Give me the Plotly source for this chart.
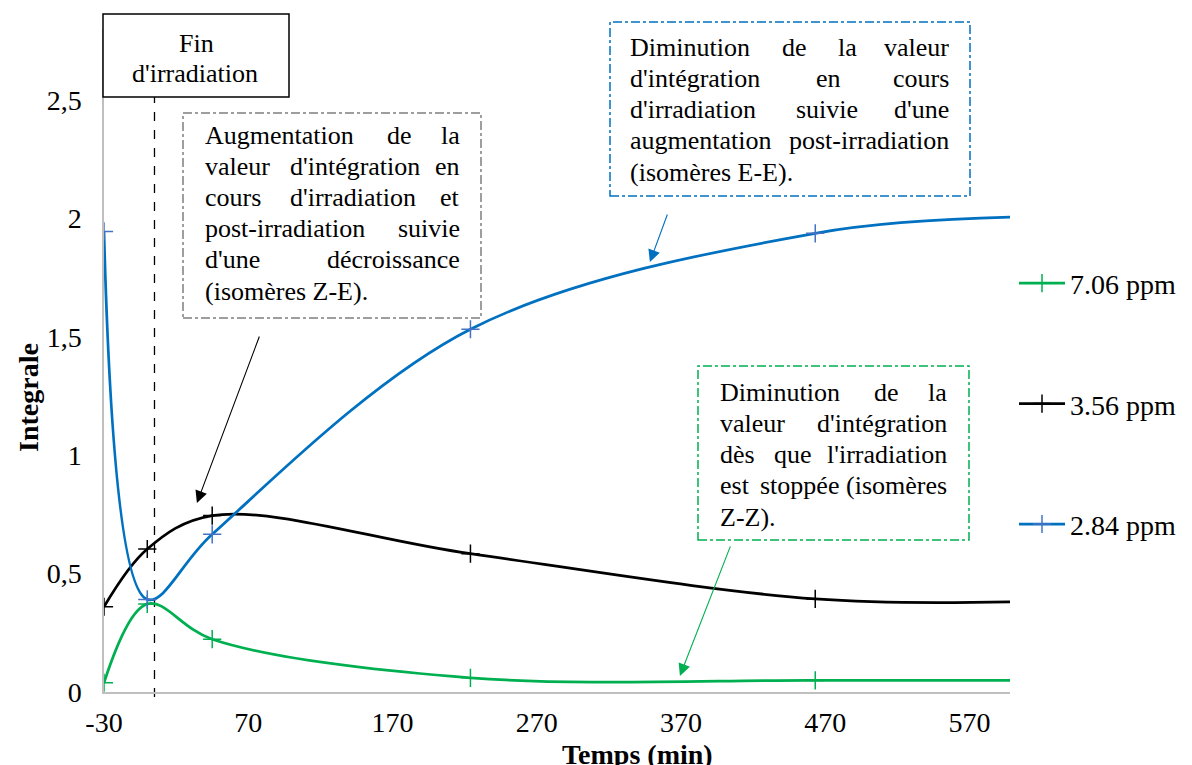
import plotly.graph_objects as go

# ---------------- data ----------------
time_min = [-30, 0, 45, 224, 463, 598]
ppm_706 = [0.039, 0.372, 0.223, 0.060, 0.049, 0.049]
ppm_356 = [0.360, 0.604, 0.745, 0.584, 0.393, 0.381]
ppm_284 = [1.945, 0.391, 0.666, 1.532, 1.937, 2.005]
series_names = ["7.06 ppm", "3.56 ppm", "2.84 ppm"]
x_ticks = [-30, 70, 170, 270, 370, 470, 570]
x_ticklabels = ["-30", "70", "170", "270", "370", "470", "570"]
y_ticks = [0, 0.5, 1, 1.5, 2, 2.5]
y_ticklabels = ["0", "0,5", "1", "1,5", "2", "2,5"]
end_of_irradiation = 5

# ---------------- layout geometry ----------------
W, H = 1192, 765
ML, MR, MT, MB = 104, 182, 29, 73
PW, PH = W - ML - MR, H - MT - MB
FONT = "Liberation Serif"


def px(xp):
    return (xp - ML) / PW


def py(yp):
    return (H - MB - yp) / PH


colors = ["#00B050", "#000000", "#0070C0"]
marker_colors = ["#00B050", "#000000", "#4472C4"]

fig = go.Figure()
for name, ys, c, mc in zip(series_names, [ppm_706, ppm_356, ppm_284], colors, marker_colors):
    mlc = [mc] * (len(time_min) - 1) + ["rgba(0,0,0,0)"]
    fig.add_trace(go.Scatter(
        x=time_min, y=ys, name=name, legendgroup=name,
        mode="lines+markers",
        line=dict(color=c, width=2.75, shape="spline", smoothing=1.0),
        marker=dict(symbol="cross-thin", size=13, color=mc,
                    line=dict(color=mlc, width=1.5)),
    ))

fig.update_layout(
    width=W, height=H,
    margin=dict(l=ML, r=MR, t=MT, b=MB, autoexpand=False),
    paper_bgcolor="white", plot_bgcolor="white",
    font=dict(family=FONT, size=28, color="black"),
    showlegend=True,
    legend=dict(x=px(1014), xanchor="left", y=py(404), yanchor="middle",
                tracegroupgap=81, itemwidth=46, font=dict(size=28, family=FONT),
                bgcolor="rgba(0,0,0,0)", borderwidth=0),
    xaxis=dict(range=[-30, 598], tickvals=x_ticks, ticktext=x_ticklabels, showgrid=False,
               zeroline=False, showline=True, linecolor="#BFBFBF", linewidth=1.5, ticks="",
               ticklabelstandoff=5, tickfont=dict(size=28, family=FONT)),
    yaxis=dict(range=[0, 2.8], tickvals=y_ticks, ticktext=y_ticklabels, showgrid=False,
               zeroline=False, showline=True, linecolor="#BFBFBF", linewidth=1.5,
               ticks="", ticklabelstandoff=15, tickfont=dict(size=28, family=FONT)),
)

# axis titles
fig.add_annotation(text="<b>Temps (min)</b>", xref="paper", yref="paper",
                   x=px(637), y=py(754), xanchor="center", yanchor="middle",
                   showarrow=False, font=dict(size=28, family=FONT))
fig.add_annotation(text="<b>Integrale</b>", xref="paper", yref="paper",
                   x=px(28), y=py(398), xanchor="center", yanchor="middle",
                   textangle=-90, showarrow=False, font=dict(size=28, family=FONT))

# end of irradiation dashed line
fig.add_shape(type="line", xref="x", yref="paper", x0=end_of_irradiation, x1=end_of_irradiation,
              y0=py(697), y1=py(97), line=dict(color="black", width=1.3, dash="dash"),
              layer="below")

# ---------------- text boxes ----------------
TW = {' ': 250, 'a': 444, 'b': 500, 'c': 444, 'd': 500, 'e': 444, 'f': 333, 'g': 500,
      'h': 500, 'i': 278, 'j': 278, 'k': 500, 'l': 278, 'm': 778, 'n': 500, 'o': 500,
      'p': 500, 'q': 500, 'r': 333, 's': 389, 't': 278, 'u': 500, 'v': 500, 'w': 722,
      'x': 500, 'y': 500, 'z': 444, 'A': 722, 'D': 722, 'E': 611, 'Z': 611, "'": 180,
      '(': 333, ')': 333, '-': 333, '.': 250, 'é': 444, 'è': 444, 'F': 556}
TFS = 26


def tw(s):
    return sum(TW.get(ch, 500) for ch in s) / 1000 * TFS


def add_justified(lines, left, right, y0, dy):
    for i, line in enumerate(lines):
        yc = y0 + i * dy
        words = line.split(" ")
        if i == len(lines) - 1 or len(words) == 1:
            fig.add_annotation(text=line, xref="paper", yref="paper", x=px(left), y=py(yc),
                               xanchor="left", yanchor="middle", showarrow=False,
                               font=dict(size=TFS, family=FONT))
            continue
        widths = [tw(w) for w in words]
        gap = (right - left - sum(widths)) / (len(words) - 1)
        xpos = left
        for j, (w, wd) in enumerate(zip(words, widths)):
            if j == len(words) - 1:
                fig.add_annotation(text=w, xref="paper", yref="paper", x=px(right), y=py(yc),
                                   xanchor="right", yanchor="middle", showarrow=False,
                                   font=dict(size=TFS, family=FONT))
            else:
                fig.add_annotation(text=w, xref="paper", yref="paper", x=px(xpos), y=py(yc),
                                   xanchor="left", yanchor="middle", showarrow=False,
                                   font=dict(size=TFS, family=FONT))
            xpos += wd + gap


def add_box(x0, y0, x1, y1, color, dash):
    fig.add_shape(type="rect", xref="paper", yref="paper", x0=px(x0), x1=px(x1),
                  y0=py(y1), y1=py(y0), line=dict(color=color, width=1.5, dash=dash),
                  fillcolor="white", layer="above")


gray_lines = ["Augmentation de la", "valeur d'intégration en", "cours d'irradiation et",
              "post-irradiation suivie", "d'une décroissance", "(isomères Z-E)."]
blue_lines = ["Diminution de la valeur", "d'intégration en cours", "d'irradiation suivie d'une",
              "augmentation post-irradiation", "(isomères E-E)."]
green_lines = ["Diminution de la", "valeur d'intégration", "dès que l'irradiation",
               "est stoppée (isomères", "Z-Z)."]

add_box(103, 14, 289, 97, "black", "solid")
fig.add_annotation(text="Fin", xref="paper", yref="paper", x=px(196), y=py(43),
                   xanchor="center", yanchor="middle", showarrow=False,
                   font=dict(size=TFS, family=FONT))
fig.add_annotation(text="d'irradiation", xref="paper", yref="paper", x=px(195), y=py(73),
                   xanchor="center", yanchor="middle", showarrow=False,
                   font=dict(size=TFS, family=FONT))

add_box(183, 113, 481, 318, "#7F7F7F", "dashdot")
add_justified(gray_lines, 203, 462, 135, 31.2)

add_box(610, 22, 970, 196, "#0070C0", "dashdot")
add_justified(blue_lines, 628, 951, 47, 31.3)

add_box(698, 366, 969, 540, "#00B050", "dashdot")
add_justified(green_lines, 718, 949, 392, 31.3)

# ---------------- arrows ----------------
arrows = [
    (34.4, 0.798, 63, -168, "black"),
    (348.4, 1.816, 18, -49, "#0070C0"),
    (369.2, 0.068, 51, -131, "#00B050"),
]
for ax_, ay_, dx, dy, c in arrows:
    fig.add_annotation(x=ax_, y=ay_, xref="x", yref="y", ax=dx, ay=dy, text="",
                       showarrow=True, arrowhead=2, arrowsize=2.2, arrowwidth=1.1,
                       arrowcolor=c, standoff=0)

fig.write_html("out.html", config={"displayModeBar": False},
               post_script="document.body.style.margin='0px';")
